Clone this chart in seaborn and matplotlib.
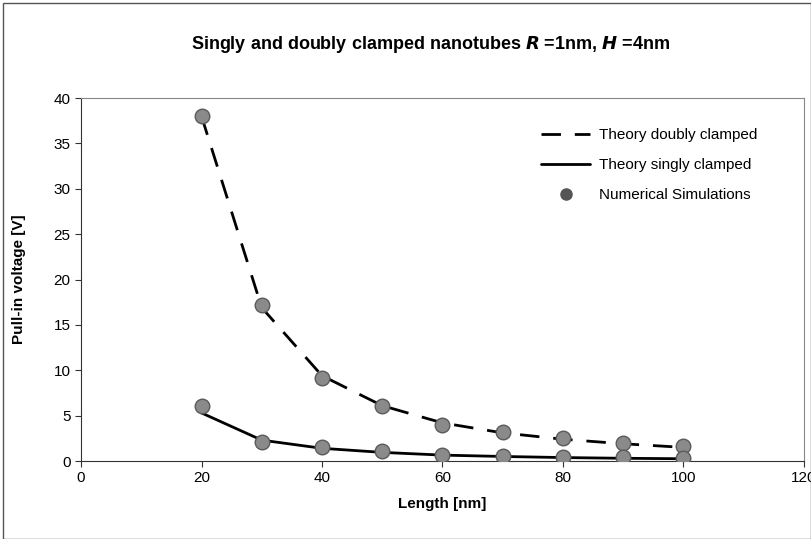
import matplotlib
matplotlib.use("Agg")
import matplotlib.pyplot as plt
import seaborn as sns
import pandas as pd
from matplotlib.lines import Line2D

# data
length = [20, 30, 40, 50, 60, 70, 80, 90, 100]
theory_doubly = [38.0, 16.9, 9.4, 6.1, 4.2, 3.1, 2.4, 1.9, 1.5]
theory_singly = [5.3, 2.3, 1.4, 0.95, 0.65, 0.5, 0.38, 0.3, 0.25]
sim_doubly = [38.0, 17.2, 9.1, 6.1, 4.0, 3.2, 2.5, 1.95, 1.6]
sim_singly = [6.1, 2.1, 1.5, 1.1, 0.66, 0.55, 0.47, 0.4, 0.3]

sns.set_style("white")
plt.rcParams['font.family'] = ['Liberation Sans', 'DejaVu Sans']
plt.rcParams['text.color'] = 'black'
plt.rcParams['axes.labelcolor'] = 'black'
plt.rcParams['xtick.color'] = 'black'
plt.rcParams['ytick.color'] = 'black'

DASH = (0, (7, 5))

fig = plt.figure(figsize=(8.12, 5.39), dpi=100)
ax = fig.add_axes([0.0998, 0.1447, 0.8902, 0.6733])

df_th = pd.DataFrame({"x": length, "doubly": theory_doubly, "singly": theory_singly})
df_sim = pd.DataFrame({"x": length + length, "y": sim_doubly + sim_singly})

sns.lineplot(data=df_th, x="x", y="doubly", ax=ax, color="black", lw=2,
             linestyle=DASH, zorder=2)
sns.lineplot(data=df_th, x="x", y="singly", ax=ax, color="black", lw=2, zorder=2)
sns.scatterplot(data=df_sim, x="x", y="y", ax=ax, s=110, color="#8a8a8a",
                edgecolor="#5a5a5a", linewidth=1, zorder=3)

ax.set_xlim(0, 120)
ax.set_ylim(0, 40)
ax.set_xticks(range(0, 121, 20))
ax.set_yticks(range(0, 41, 5))
ax.tick_params(axis="both", labelsize=11, length=4, direction="out",
               bottom=True, left=True, color="#333333")
for side in ["top", "right"]:
    ax.spines[side].set_color("#888888")
    ax.spines[side].set_linestyle((0, (1, 1)))
for side in ["left", "bottom"]:
    ax.spines[side].set_color("#333333")

ax.set_xlabel("Length [nm]", fontsize=11, fontweight="bold", labelpad=8)
ax.set_ylabel("Pull-in voltage [V]", fontsize=11, fontweight="bold", labelpad=20)
fig.text(0.53, 0.918, r"Singly and doubly clamped nanotubes $\bfit{R}$ =1nm, $\bfit{H}$ =4nm",
         ha="center", va="center", fontsize=13, fontweight="bold")

handles = [
    Line2D([], [], color="black", lw=2, linestyle=DASH),
    Line2D([], [], color="black", lw=2),
    Line2D([], [], marker="o", color="#555555", linestyle="none", markersize=8),
]
labels = ["Theory doubly clamped", "Theory singly clamped", "Numerical Simulations"]
ax.legend(handles, labels, loc="upper right", bbox_to_anchor=(0.955, 0.955),
          frameon=False, fontsize=11, handlelength=3.2, handletextpad=0.6,
          labelspacing=1.05)

# outer figure frame
fig.patches.append(plt.Rectangle((0.004, 0.0), 0.995, 0.995, transform=fig.transFigure,
                                 fill=False, edgecolor="#555555", lw=1))

fig.savefig("out.png", dpi=100)
